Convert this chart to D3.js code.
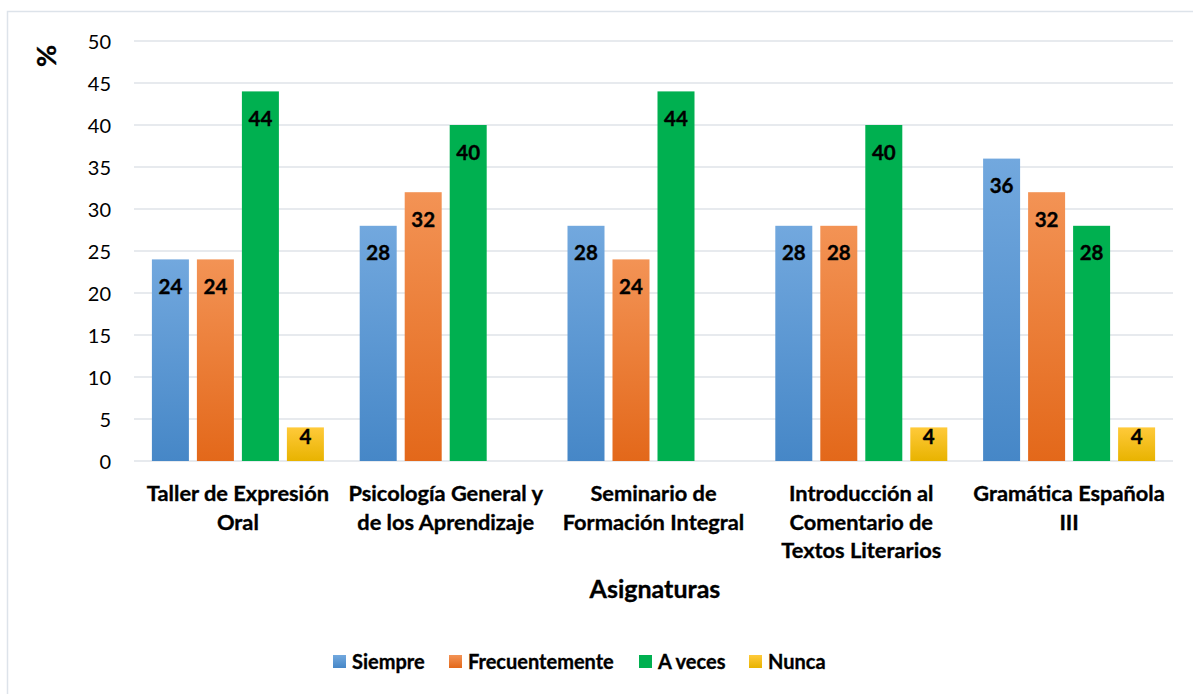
<!DOCTYPE html>
<html><head><meta charset="utf-8">
<script src="https://cdn.jsdelivr.net/npm/d3@7"></script>
<style>body{margin:0;background:#fff;}svg{display:block;font-family:Lato,"Open Sans",sans-serif;}
.b{font-weight:bold;fill:#000;stroke:#000;stroke-width:0.35px;}</style>
</head><body>
<svg id="c" width="1193" height="694"></svg>
<script>
const categories = [["Taller de Expresión","Oral"],["Psicología General y","de los Aprendizaje"],["Seminario de","Formación Integral"],["Introducción al","Comentario de","Textos Literarios"],["Gramática Española","III"]];
const seriesNames = ["Siempre","Frecuentemente","A veces","Nunca"];
const siempre = [24,28,28,28,36];
const frecuentemente = [24,32,24,28,32];
const aveces = [44,40,44,40,28];
const nunca = [4,null,null,4,4];
const yTicks = [0,5,10,15,20,25,30,35,40,45,50];
const seriesValues = [siempre, frecuentemente, aveces, nunca];
const colorTop = ["#72a8de","#f39355","#00b050","#ffca3a"];
const colorBot = ["#4687c7","#e3681a","#00b050","#e8b300"];

const svg = d3.select("#c");
const defs = svg.append("defs");
seriesNames.forEach((s,i)=>{
  const g = defs.append("linearGradient").attr("id","g"+i).attr("x1",0).attr("y1",0).attr("x2",0).attr("y2",1);
  g.append("stop").attr("offset","0%").attr("stop-color",colorTop[i]);
  g.append("stop").attr("offset","100%").attr("stop-color",colorBot[i]);
});
// outer border
svg.append("rect").attr("x",7.5).attr("y",11.5).attr("width",1200).attr("height",700).attr("fill","none").attr("stroke","#dde3ea").attr("stroke-width",1.5);

const pLeft=134, pRight=1173, pTop=41, pBottom=461;
const x0 = d3.scaleBand().domain(d3.range(categories.length)).range([pLeft,pRight]).paddingInner(0).paddingOuter(0);
const x1 = d3.scaleBand().domain(d3.range(seriesNames.length)).range([17.9, 207.8-17.9]).paddingInner(8/45).paddingOuter(0);
const y = d3.scaleLinear().domain([0,50]).range([pBottom,pTop]);

// grid
svg.append("g").selectAll("line").data(yTicks).join("line")
  .attr("x1",pLeft).attr("x2",pRight).attr("y1",d=>y(d)).attr("y2",d=>y(d))
  .attr("stroke","#dfe3e8").attr("stroke-width",1.5);
// y axis labels
const yAxis = d3.axisLeft(y).tickValues(yTicks).tickSize(0).tickPadding(0);
const ya = svg.append("g").attr("transform",`translate(${111},0)`).call(yAxis);
ya.select(".domain").remove();
ya.selectAll("text").attr("font-size",20).attr("fill","#000").attr("font-family","Lato,'Open Sans',sans-serif").attr("text-anchor","end").attr("dy","0.35em");

// bars
seriesValues.forEach((vals,si)=>{
  const g = svg.append("g");
  vals.forEach((v,ci)=>{
    if(v==null) return;
    const bx = x0(ci)+x1(si), bw = x1.bandwidth();
    const by = y(v), bh = y(0)-y(v);
    g.append("rect").attr("x",bx).attr("y",by).attr("width",bw).attr("height",bh).attr("fill",`url(#g${si})`);
    const cy = bh>50 ? by+27.5 : by+9.5;
    g.append("text").attr("class","b").attr("x",bx+bw/2).attr("y",cy).attr("dy","0.35em").attr("text-anchor","middle")
      .attr("font-size",20.5).text(v);
  });
});

// category labels
categories.forEach((lines,ci)=>{
  const cx = x0(ci)+x0.bandwidth()/2;
  const t = svg.append("text").attr("class","b").attr("text-anchor","middle").attr("font-size",21.8);
  lines.forEach((l,li)=>{
    t.append("tspan").attr("x",cx).attr("y",501+li*28.5).text(l);
  });
});

// axis titles
svg.append("text").attr("class","b").attr("x",655).attr("y",598).attr("text-anchor","middle").attr("font-size",25).text("Asignaturas");
svg.append("text").attr("class","b").attr("transform","translate(56,56) rotate(-90)").attr("text-anchor","middle").attr("font-size",27).text("%");

// legend
const legX = [333,449,639,749];
seriesNames.forEach((s,i)=>{
  svg.append("rect").attr("x",legX[i]).attr("y",655).attr("width",13).attr("height",13).attr("fill",`url(#g${i})`);
  svg.append("text").attr("class","b").attr("x",legX[i]+19).attr("y",661.5).attr("dy","0.35em").attr("font-size",20).text(s);
});
</script>
</body></html>
